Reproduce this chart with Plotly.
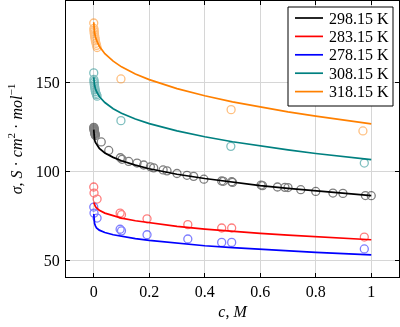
import plotly.graph_objects as go

# ---- fitted curves ----
curve_c = [0.0, 0.001, 0.003, 0.006, 0.01, 0.02, 0.04, 0.07, 0.1, 0.15, 0.2,
           0.3, 0.4, 0.5, 0.6, 0.7, 0.8, 0.9, 1.0]
curve_298 = [123.5, 119.3, 117.7, 116.3, 115.1, 113.0, 110.4, 107.9, 106.0, 103.5, 101.5,
             98.4, 96.0, 93.9, 92.0, 90.4, 88.9, 87.6, 86.3]
curve_283 = [82.5, 82.0, 81.0, 80.2, 79.4, 78.1, 76.5, 74.9, 73.7, 72.2, 71.0,
             69.0, 67.5, 66.2, 65.1, 64.1, 63.1, 62.3, 61.5]
curve_278 = [76.0, 72.5, 70.6, 69.3, 68.2, 66.9, 65.6, 64.3, 63.4, 62.1, 61.1,
             59.4, 58.1, 57.0, 56.0, 55.2, 54.4, 53.7, 53.0]
curve_308 = [153.0, 150.6, 148.5, 146.6, 145.0, 142.2, 138.8, 135.3, 132.8, 129.5, 126.9,
             122.8, 119.5, 116.7, 114.3, 112.1, 110.1, 108.3, 106.6]
curve_318 = [184.0, 180.8, 178.1, 175.9, 173.9, 170.5, 166.3, 162.1, 158.9, 154.9, 151.7,
             146.6, 142.6, 139.2, 136.2, 133.5, 131.1, 128.9, 126.8]

# ---- measured points ----
c_298 = [0.0002, 0.0005, 0.0008, 0.001, 0.0015, 0.002, 0.0025, 0.003, 0.0035, 0.004, 0.005, 0.006,
         0.027, 0.054, 0.096, 0.102, 0.126, 0.156, 0.18, 0.204, 0.216, 0.25, 0.264, 0.3, 0.336,
         0.36, 0.397, 0.461, 0.467, 0.497, 0.5, 0.603, 0.608, 0.662, 0.689, 0.70, 0.746, 0.80,
         0.862, 0.898, 0.979, 1.0]
s_298 = [124.8, 124.5, 124.1, 123.7, 123.3, 122.9, 122.5, 122.1, 121.7, 121.3, 120.8, 120.2,
         116.6, 111.8, 107.7, 106.8, 105.6, 104.7, 103.6, 102.6, 102.0, 100.8, 100.3, 98.8, 97.8,
         97.2, 95.6, 94.6, 94.4, 94.2, 93.8, 92.3, 92.0, 91.2, 91.0, 90.9, 89.7, 88.7,
         87.8, 87.6, 86.4, 86.3]
c_283 = [0.0, 0.001, 0.012, 0.095, 0.1, 0.192, 0.339, 0.461, 0.497, 0.975]
s_283 = [91.2, 87.8, 84.4, 76.5, 75.6, 73.3, 70.0, 68.1, 68.1, 63.0]
c_278 = [0.0, 0.001, 0.012, 0.095, 0.1, 0.192, 0.339, 0.461, 0.497, 0.975]
s_278 = [79.9, 76.5, 73.7, 67.4, 66.5, 64.3, 61.9, 60.0, 60.0, 56.3]
c_308 = [0.0, 0.0005, 0.001, 0.0015, 0.002, 0.003, 0.004, 0.005, 0.006, 0.008, 0.01, 0.012,
         0.098, 0.494, 0.975]
s_308 = [155.5, 151.8, 150.8, 150.0, 149.0, 148.0, 147.0, 146.0, 145.0, 144.0, 143.2, 142.4,
         128.6, 114.1, 104.7]
c_318 = [0.0, 0.0005, 0.001, 0.0015, 0.002, 0.003, 0.004, 0.005, 0.006, 0.008, 0.01, 0.012,
         0.098, 0.495, 0.97]
s_318 = [183.6, 180.5, 179.5, 178.6, 177.6, 176.6, 175.6, 174.6, 173.5, 172.2, 171.0, 169.8,
         152.1, 134.8, 122.8]

labels = ["298.15 K", "283.15 K", "278.15 K", "308.15 K", "318.15 K"]
colors = ["#000000", "#ff0000", "#0000ff", "#008080", "#ff8000"]
points = [(c_298, s_298), (c_283, s_283), (c_278, s_278), (c_308, s_308), (c_318, s_318)]
curves = [curve_298, curve_283, curve_278, curve_308, curve_318]

FONT = "Liberation Serif"
fig = go.Figure()

for (cx, sy), col in zip(points, colors):
    fig.add_trace(go.Scatter(
        x=cx, y=sy, mode="markers", showlegend=False, opacity=0.5,
        marker=dict(symbol="circle-open", size=8, color=col, line=dict(width=1.3, color=col)),
        hoverinfo="skip"))

for cy, col, lab in zip(curves, colors, labels):
    fig.add_trace(go.Scatter(
        x=curve_c, y=cy, mode="lines", name=lab, showlegend=False,
        line=dict(color=col, width=1.7)))

# ---- legend drawn as a framed box (paper coordinates) ----
L, R, T, B = 66, 399, 1, 277
def px(xp):
    return (xp - L) / (R - L)
def py(yp):
    return (B - yp) / (B - T)

shapes = [dict(type="rect", xref="paper", yref="paper",
               x0=px(288), x1=px(393), y0=py(106), y1=py(7),
               line=dict(color="black", width=1), fillcolor="white", layer="above")]
annotations = []
row_y = [18, 36.4, 54.8, 73.2, 91.6]
for lab, col, ry in zip(labels, colors, row_y):
    shapes.append(dict(type="line", xref="paper", yref="paper",
                       x0=px(295), x1=px(323), y0=py(ry), y1=py(ry),
                       line=dict(color=col, width=1.7), layer="above"))
    annotations.append(dict(text=lab, xref="paper", yref="paper", x=px(327), y=py(ry),
                            xanchor="left", yanchor="middle", showarrow=False,
                            font=dict(family=FONT, size=16, color="black")))

axis_common = dict(
    showline=True, linecolor="black", linewidth=1, mirror="ticks",
    ticks="inside", ticklen=4, tickcolor="black", tickwidth=1,
    showgrid=True, gridcolor="#d6d6d6", gridwidth=1, zeroline=False, automargin=False,
    tickfont=dict(family=FONT, size=16, color="black"),
)

fig.update_layout(
    width=400, height=327,
    margin=dict(l=L, r=400 - R, t=T, b=327 - B),
    paper_bgcolor="white", plot_bgcolor="white",
    font=dict(family=FONT, size=16, color="black"),
    showlegend=False,
    shapes=shapes, annotations=annotations,
    xaxis=dict(range=[-0.1, 1.1], tickvals=[0, 0.2, 0.4, 0.6, 0.8, 1],
               ticktext=["0", "0.2", "0.4", "0.6", "0.8", "1"],
               title=dict(text="<i>c</i>, <i>M</i>", font=dict(family=FONT, size=16), standoff=6),
               **axis_common),
    yaxis=dict(range=[40.5, 196], tickvals=[50, 100, 150], ticklabelstandoff=2,
               title=dict(text="<i>σ</i>, <i>S</i> · <i>cm</i><sup>2</sup> · <i>mol</i><sup>−1</sup>",
                          font=dict(family=FONT, size=16), standoff=9),
               **axis_common),
)

fig.write_html("out.html", config={"displayModeBar": False, "staticPlot": True},
               post_script="document.body.style.margin='0px';")
